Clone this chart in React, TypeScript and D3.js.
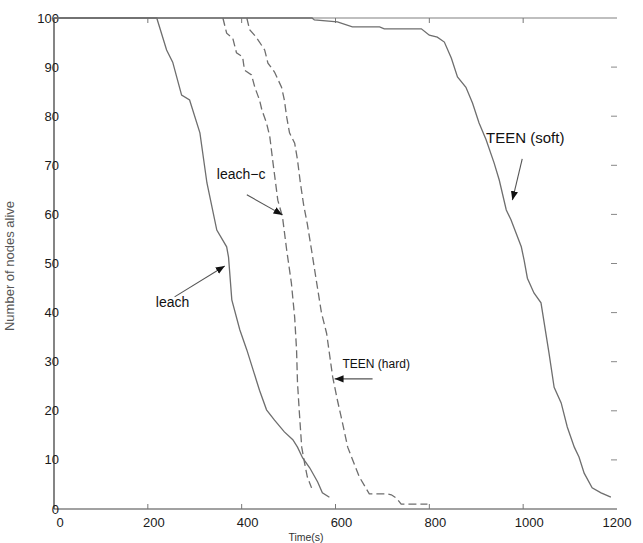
import React from "react";
import * as d3 from "d3";

type P = [number, number];

const xTicks = [0, 200, 400, 600, 800, 1000, 1200];
const yTicks = [0, 10, 20, 30, 40, 50, 60, 70, 80, 90, 100];

const leach: P[] = [
  [0, 100], [219, 100], [240, 93.5], [253, 91], [272, 84.3], [289, 83.3], [311, 76.6],
  [326, 66.4], [347, 56.8], [368, 53.4], [372, 51.3], [379, 42.6], [396, 36.5],
  [411, 32.4], [438, 24.2], [453, 20.2], [470, 18.1], [491, 15.7], [509, 14.1],
  [519, 12.6], [530, 10.4], [545, 8.4], [562, 5.5], [572, 3.3], [587, 2.4],
];

const leachC: P[] = [
  [360, 100], [368, 96.9], [381, 95.9], [389, 92.9], [402, 92.1], [406, 89.4],
  [421, 88.4], [428, 85.9], [438, 83.3], [443, 81.3], [453, 78.6], [460, 75.8],
  [466, 71.1], [477, 62.9], [487, 59.5], [496, 52.7], [506, 46], [513, 39],
  [517, 32.4], [519, 25.7], [523, 19.6], [528, 12.6], [534, 9.4], [540, 6.5], [549, 4.3],
];

const teenHard: P[] = [
  [411, 100], [417, 97.6], [431, 96.1], [449, 93.5], [456, 90.8], [470, 89],
  [485, 85.9], [491, 83.3], [496, 79.8], [502, 76.6], [513, 74.5], [519, 71.1],
  [525, 66.5], [532, 62], [540, 58], [549, 52.7], [560, 46], [570, 40], [581, 35.8],
  [594, 26.9], [604, 22.2], [615, 17.5], [626, 12.6], [634, 10.6], [651, 6.5],
  [672, 3.1], [708, 3.1], [719, 2.9], [730, 2.2], [740, 1], [796, 1],
];

const teenSoft: P[] = [
  [0, 100], [550, 100], [555, 99.6], [604, 99.2], [636, 98.2], [694, 98.2],
  [704, 97.8], [783, 97.8], [800, 96.5], [817, 96.1], [832, 95.1], [847, 91.8],
  [860, 88], [878, 85.9], [892, 82.7], [906, 78.6], [921, 75.2], [938, 70.5],
  [949, 67], [964, 60.9], [974, 58.9], [996, 53.4], [1002, 50.7], [1009, 47],
  [1023, 44], [1038, 42], [1055, 31.8], [1066, 24.8], [1081, 21.6], [1094, 16.7],
  [1109, 12.6], [1119, 10.6], [1130, 7.3], [1147, 4.3], [1166, 3.3], [1187, 2.4],
];

const seriesNames = ["leach", "leach-c", "TEEN (hard)", "TEEN (soft)"];
const seriesData = [leach, leachC, teenHard, teenSoft];
const seriesDashed = [false, true, true, false];

// annotation label anchors and arrows in data units
const labelAt: P[] = [[217, 41.1], [347, 67.2], [615, 28.7], [921, 74.5]];
const labelSize = [14, 14, 12, 15];
const arrowFrom: P[] = [[257, 43.2], [411, 64], [679, 26.5], [998, 71.3]];
const arrowTo: P[] = [[364, 49.5], [487, 59.9], [598, 26.5], [977, 62.9]];

const W = 643;
const H = 543;
const FONT = "'Liberation Sans', Arial, sans-serif";

export default function App() {
  const x = d3.scaleLinear().domain([0, 1200]).range([54, 617]);
  const y = d3.scaleLinear().domain([0, 100]).range([509, 18]);
  const line = d3
    .line<P>()
    .x((d) => x(d[0]))
    .y((d) => y(d[1]));
  const lineColor = "#6e6e6e";

  return (
    <svg
      width={W}
      height={H}
      style={{ position: "absolute", left: 0, top: 0, background: "#fff" }}
      fontFamily={FONT}
    >
      <defs>
        <marker
          id="ah"
          viewBox="0 0 10 10"
          refX="10"
          refY="5"
          markerWidth="9"
          markerHeight="9"
          markerUnits="userSpaceOnUse"
          orient="auto"
        >
          <path d="M0,1 L10,5 L0,9 Z" fill="#111" />
        </marker>
      </defs>
      <rect x={0} y={0} width={W} height={H} fill="#fff" />

      {/* axes */}
      <line x1={x(0)} x2={x(1200)} y1={y(100)} y2={y(100)} stroke="#808080" strokeWidth={1.2} />
      <line x1={x(0)} x2={x(0)} y1={y(100)} y2={y(0)} stroke="#333" strokeWidth={1.2} />
      <line x1={x(0)} x2={x(1200)} y1={y(0)} y2={y(0)} stroke="#444" strokeWidth={1.2} />

      {xTicks.slice(1, -1).map((t) => (
        <g key={"xt" + t}>
          <line x1={x(t)} x2={x(t)} y1={y(0)} y2={y(0) - 5} stroke="#777" strokeWidth={1} />
          <line x1={x(t)} x2={x(t)} y1={y(100)} y2={y(100) + 5} stroke="#777" strokeWidth={1} />
        </g>
      ))}
      {yTicks.slice(1, -1).map((v) => (
        <line key={"yt" + v} x1={x(1200) - 6} x2={x(1200)} y1={y(v)} y2={y(v)} stroke="#888" strokeWidth={1} />
      ))}

      {xTicks.map((t) => (
        <text
          key={"xl" + t}
          x={Math.min(x(t) + 6, 617)}
          y={527}
          textAnchor="middle"
          fontSize={13}
          fill="#1a1a1a"
        >
          {t}
        </text>
      ))}
      {yTicks.map((v) => (
        <text
          key={"yl" + v}
          x={59}
          y={y(v) + 4.5}
          textAnchor="end"
          fontSize={13}
          fill="#1a1a1a"
        >
          {v}
        </text>
      ))}

      <text x={306} y={541} textAnchor="middle" fontSize={10.5} fill="#333">
        Time(s)
      </text>
      <text
        transform={`translate(14,266) rotate(-90)`}
        textAnchor="middle"
        fontSize={13}
        fill="#555"
      >
        Number of nodes alive
      </text>

      {/* curves */}
      {seriesData.map((s, i) => (
        <path
          key={seriesNames[i]}
          d={line(s) || ""}
          fill="none"
          stroke={lineColor}
          strokeWidth={1.3}
          strokeDasharray={seriesDashed[i] ? "8,4" : undefined}
        />
      ))}

      {/* annotations */}
      {seriesNames.map((n, i) => (
        <g key={"an" + n}>
          <text x={x(labelAt[i][0])} y={y(labelAt[i][1])} fontSize={labelSize[i]} fill="#111">
            {n === "leach-c" ? "leach\u2212c" : n}
          </text>
          <line
            x1={x(arrowFrom[i][0])}
            y1={y(arrowFrom[i][1])}
            x2={x(arrowTo[i][0])}
            y2={y(arrowTo[i][1])}
            stroke="#555"
            strokeWidth={1.1}
            markerEnd="url(#ah)"
          />
        </g>
      ))}
    </svg>
  );
}
